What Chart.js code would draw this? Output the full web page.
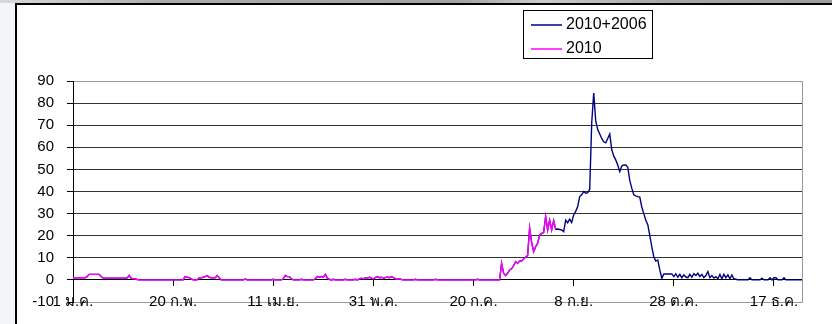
<!DOCTYPE html>
<html lang="th">
<head>
<meta charset="utf-8">
<title>2010+2006</title>
<script src="https://cdn.jsdelivr.net/npm/chart.js@4.4.1/dist/chart.umd.min.js"></script>
<style>
  html, body { margin: 0; padding: 0; }
  body { width: 832px; height: 324px; position: relative; overflow: hidden; background: #f3f6f6; }
  #band { position: absolute; left: 0; top: 0; width: 832px; height: 3px;
          background: linear-gradient(to right, #d6dbda 0%, #a7adaa 20%, #9ea4a0 55%, #c8cdca 65%, #a2a8a4 80%, #9aa09c 100%); }
  #frame { position: absolute; left: 15px; top: 3px; right: -4px; bottom: -4px; background: #fff;
           border-top: 2px solid #000; border-left: 2px solid #000; }
  #chart { position: absolute; left: 0; top: 0; }
</style>
</head>
<body>
<div id="band"></div>
<div id="frame"></div>
<canvas id="chart" width="832" height="324"></canvas>
<script>
// Thai month abbreviations and month lengths for 2010
const monthNames = ['ม.ค.', 'ก.พ.', 'มี.ค.', 'เม.ย.', 'พ.ค.', 'มิ.ย.', 'ก.ค.', 'ส.ค.', 'ก.ย.', 'ต.ค.', 'พ.ย.', 'ธ.ค.'];
const monthDays = [31, 28, 31, 30, 31, 30, 31, 31, 30, 31, 30, 31];
const labelEvery = 50;

// Daily cases, 2010 (1 Jan onward)
const cases2010 = [
  1, 1, 1, 1, 1, 1, 1, 1.5, 2.5, 2.5,
  2.5, 2.5, 2.5, 2.5, 1.5, 0.8, 0.8, 0.8, 0.8, 0.8,
  0.8, 0.8, 0.8, 0.8, 0.8, 0.8, 0.8, 0.8, 2, 0.8,
  0.5, 0.5, 0.2, 0, 0, 0, 0, 0, 0, 0,
  0, 0, 0, 0, 0, 0, 0, 0, 0, 0,
  0, 0, 0, 0, 0, 0, 1.5, 1.2, 1, 0.5,
  0, 0, 0, 1, 1, 1.2, 1.5, 2, 1.2, 1,
  1, 1, 2, 1, 0, 0, 0, 0, 0, 0,
  0, 0, 0, 0, 0, 0, 0.4, 0, 0, 0,
  0, 0, 0, 0, 0, 0, 0, 0, 0, 0,
  0.3, 0, 0, 0, 0, 0.5, 2, 1.5, 1.5, 0.5,
  0, 0, 0, 0, 0.3, 0, 0, 0, 0, 0,
  0, 0.5, 1.5, 1.3, 1.5, 1.2, 2.5, 0.8, 0.3, 0,
  0.3, 0, 0, 0, 0, 0, 0.3, 0, 0, 0,
  0, 0.3, 0, 0.5, 0.8, 0.5, 1, 0.8, 1.2, 0.8,
  0.5, 1, 1.5, 1, 1.2, 0.8, 1, 1.3, 1, 1.5,
  1, 0.5, 0.3, 0.5, 0.2, 0, 0, 0, 0, 0,
  0, 0.3, 0, 0, 0, 0, 0, 0, 0, 0,
  0, 0.3, 0, 0, 0, 0, 0, 0, 0, 0,
  0, 0, 0, 0, 0, 0, 0, 0, 0, 0,
  0, 0, 0.3, 0, 0, 0, 0, 0, 0, 0,
  0, 0, 0, 0, 7.5, 3, 2, 3, 4.5, 5,
  6.5, 8.3, 7.5, 8.6, 8.5, 9.5, 10.3, 11, 23.4, 17,
  12.8, 15, 16.6, 20.4, 21, 21.4, 28.6, 22.6, 27, 22.6,
  26.8, 22.9
];

// Daily cases from 2006, continuing the year after the 2010 record ends
const cases2006Tail = [
  23, 22.8, 22.6, 21.8, 27, 25.9, 27.5, 26, 29.4, 31,
  33.2, 37.7, 38.5, 40, 39.2, 39.5, 41, 71, 84.5, 72,
  68, 66, 64, 62.5, 62, 64, 66, 59, 56, 54.3,
  52, 49, 51.5, 52, 52, 51, 45, 41.5, 38.5, 38,
  37.7, 37.5, 33, 30, 27, 25, 20, 15, 10.5, 8.5,
  9, 4.5, 0.7, 2.7, 2.7, 2.7, 2.7, 2.7, 1.5, 2.8,
  1.2, 2.5, 1, 2.3, 1.3, 1, 2.5, 1.2, 2.8, 2,
  3, 1.5, 2.5, 1, 2, 3.8, 1, 2, 0.8, 1.5,
  0.5, 2.5, 0.5, 2.5, 1, 2.3, 0.5, 2.2, 0.5, 0.3,
  0, 0, 0, 0, 0, 0, 1, 0, 0, 0,
  0, 0, 0.8, 0, 0, 0, 1, 0, 1, 1,
  0, 0, 0, 1, 0, 0, 0, 0, 0, 0,
  0, 0, 0
];

const combined = cases2010.concat(cases2006Tail);

// One label per day of the year, e.g. "20 ก.พ."
const dayLabels = [];
monthDays.forEach((n, m) => {
  for (let d = 1; d <= n; d++) dayLabels.push(d + ' ' + monthNames[m]);
});

const axisFont = { family: '"Liberation Sans", Arial, sans-serif', size: 15 };

// Boxed legend drawn in the upper area
const boxedLegend = {
  id: 'boxedLegend',
  afterDraw(chart) {
    const ctx = chart.ctx;
    const x0 = 523.5, y0 = 10.5, w = 129, h = 48;
    ctx.save();
    ctx.fillStyle = '#fff';
    ctx.fillRect(x0, y0, w, h);
    ctx.strokeStyle = '#000';
    ctx.lineWidth = 1;
    ctx.strokeRect(x0, y0, w, h);
    ctx.font = '16px "Liberation Sans", Arial, sans-serif';
    ctx.textBaseline = 'middle';
    ctx.textAlign = 'left';
    chart.data.datasets.forEach((ds, i) => {
      const y = 25 + i * 24;
      ctx.strokeStyle = ds.borderColor;
      ctx.lineWidth = 1.5;
      ctx.beginPath();
      ctx.moveTo(531, y);
      ctx.lineTo(562, y);
      ctx.stroke();
      ctx.fillStyle = '#000';
      ctx.fillText(ds.label, 566, y);
    });
    ctx.restore();
  }
};

new Chart(document.getElementById('chart'), {
  type: 'line',
  data: {
    labels: dayLabels,
    datasets: [
      {
        label: '2010+2006',
        data: combined,
        borderColor: '#000080',
        borderWidth: 1.4,
        pointRadius: 0,
        tension: 0,
        order: 2
      },
      {
        label: '2010',
        data: cases2010,
        borderColor: '#ff00ff',
        borderWidth: 1.4,
        pointRadius: 0,
        tension: 0,
        order: 1
      }
    ]
  },
  options: {
    responsive: false,
    animation: false,
    layout: { padding: { left: 0, right: 30, top: 81, bottom: 22 } },
    plugins: { legend: { display: false }, tooltip: { enabled: false } },
    scales: {
      x: {
        type: 'category',
        position: { y: 0 },
        offset: false,
        afterFit(scale) { scale.height = 0; },
        grid: { drawOnChartArea: false, drawTicks: true, tickLength: 6, color: '#000', tickColor: '#000' },
        border: { display: true, color: '#000', width: 1 },
        ticks: {
          autoSkip: false,
          maxRotation: 0,
          minRotation: 0,
          padding: 7,
          color: '#000',
          font: axisFont,
          callback(value, index) {
            return index % labelEvery === 0 ? this.getLabelForValue(value) : null;
          }
        }
      },
      y: {
        position: 'left',
        min: -10,
        max: 90,
        afterFit(scale) { scale.width = 73; },
        grid: {
          drawTicks: true,
          tickLength: 6,
          tickColor: '#000',
          lineWidth: 1,
          color(ctx) {
            const v = ctx.tick ? ctx.tick.value : 0;
            return (v === 90 || v === -10) ? '#9a9a9a' : '#333';
          }
        },
        border: { display: true, color: '#000', width: 1 },
        ticks: { stepSize: 10, padding: 13, color: '#000', font: axisFont }
      },
      yRight: {
        position: 'right',
        min: -10,
        max: 90,
        afterFit(scale) { scale.width = 0; },
        grid: { drawOnChartArea: false, drawTicks: false },
        border: { display: true, color: '#9a9a9a', width: 1 },
        ticks: { display: false }
      }
    }
  },
  plugins: [boxedLegend]
});
</script>
</body>
</html>
